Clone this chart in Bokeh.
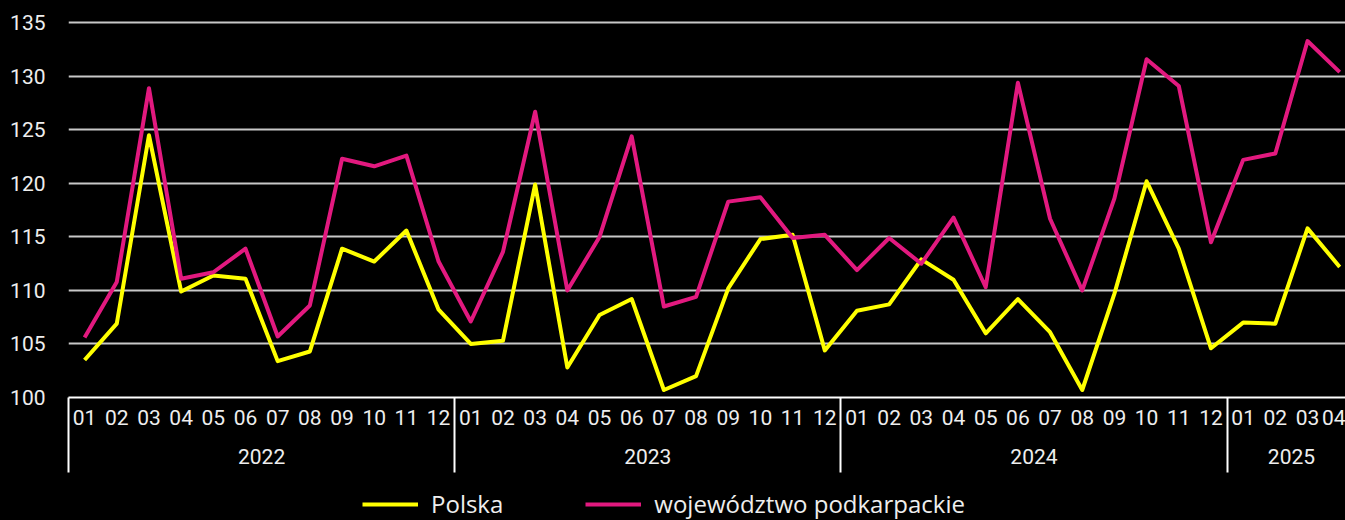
from bokeh.plotting import figure
from bokeh.layouts import column
from bokeh.models import Range1d, FixedTicker, LinearAxis, Legend, LegendItem
from bokeh.embed import file_html
from bokeh.resources import INLINE

# ---- data ----
years = ["2022", "2023", "2024", "2025"]
months_per_year = [12, 12, 12, 4]
month_labels = ["01", "02", "03", "04", "05", "06", "07", "08", "09", "10", "11", "12",
                "01", "02", "03", "04", "05", "06", "07", "08", "09", "10", "11", "12",
                "01", "02", "03", "04", "05", "06", "07", "08", "09", "10", "11", "12",
                "01", "02", "03", "04"]
series_names = ["Polska", "województwo podkarpackie"]
series_colors = ["#FFFF00", "#E2197F"]
polska = [103.5, 106.9, 124.5, 109.9, 111.4, 111.1, 103.4, 104.3, 113.9, 112.7, 115.6, 108.2,
          105.0, 105.3, 119.9, 102.8, 107.7, 109.2, 100.7, 102.0, 110.2, 114.8, 115.2, 104.4,
          108.1, 108.7, 112.9, 111.0, 106.0, 109.2, 106.1, 100.7, 109.7, 120.2, 113.9, 104.6,
          107.0, 106.9, 115.8, 112.2]
podkarpackie = [105.6, 110.8, 128.9, 111.1, 111.7, 113.9, 105.7, 108.6, 122.3, 121.6, 122.6, 112.7,
                107.1, 113.6, 126.7, 110.0, 115.0, 124.4, 108.5, 109.4, 118.3, 118.7, 114.9, 115.2,
                111.9, 114.9, 112.5, 116.8, 110.3, 129.4, 116.7, 110.0, 118.6, 131.6, 129.1, 114.5,
                122.2, 122.8, 133.3, 130.4]
y_ticks = [100, 105, 110, 115, 120, 125, 130, 135]

# ---- derived positions ----
x = list(range(len(month_labels)))
boundaries = []
centers = []
acc = 0
for n in months_per_year:
    boundaries.append(acc - 0.5)
    centers.append(acc + (n - 1) / 2)
    acc += n

BG = "black"
TEXT = "#EEEEEE"
AXFONT = "Roboto"
SEP = 75

p = figure(width=1345, height=480, output_backend="svg", toolbar_location=None,
           x_range=Range1d(-0.5, 39.18), y_range=Range1d(100, 135.5),
           background_fill_color=BG, border_fill_color=BG,
           min_border_left=68, min_border_top=17, min_border_right=0, min_border_bottom=83,
           x_axis_location=None, styles={"background-color": BG})
p.outline_line_color = None
p.xgrid.visible = False
p.ygrid.ticker = FixedTicker(ticks=y_ticks[1:])
p.ygrid.grid_line_color = "#C8C8C8"
p.ygrid.grid_line_width = 2

ya = p.yaxis[0]
ya.ticker = FixedTicker(ticks=y_ticks)
ya.axis_line_color = None
ya.major_tick_line_color = None
ya.minor_tick_line_color = None
ya.major_tick_out = 0
ya.major_tick_in = 0
ya.major_label_standoff = 23
ya.major_label_text_font = AXFONT
ya.major_label_text_font_size = "21px"
ya.major_label_text_color = TEXT

month_axis = LinearAxis(
    ticker=FixedTicker(ticks=x, minor_ticks=boundaries),
    major_label_overrides={i: m for i, m in enumerate(month_labels)},
    axis_line_color="white", axis_line_width=2,
    major_tick_line_color=None, major_tick_out=0, major_tick_in=0,
    minor_tick_line_color="white", minor_tick_line_width=2,
    minor_tick_out=SEP, minor_tick_in=0,
    major_label_standoff=12 - SEP,
    major_label_text_font=AXFONT, major_label_text_font_size="21px",
    major_label_text_color=TEXT)
p.add_layout(month_axis, "below")

year_axis = LinearAxis(
    ticker=FixedTicker(ticks=centers),
    major_label_overrides={c: y for c, y in zip(centers, years)},
    axis_line_color=None,
    major_tick_line_color=None, major_tick_out=0, major_tick_in=0,
    minor_tick_line_color=None,
    major_label_standoff=21,
    major_label_text_font=AXFONT, major_label_text_font_size="21px",
    major_label_text_color=TEXT)
p.add_layout(year_axis, "below")

p.line(x, polska, line_color=series_colors[0], line_width=4, line_join="round")
p.line(x, podkarpackie, line_color=series_colors[1], line_width=4, line_join="round")

# ---- legend strip (its own y range keeps its series lines out of view) ----
pl = figure(width=1345, height=40, output_backend="svg", toolbar_location=None,
            x_range=Range1d(-0.5, 39.18), y_range=Range1d(0, 1),
            background_fill_color=BG, border_fill_color=BG,
            min_border=0, x_axis_location=None, y_axis_location=None,
            styles={"background-color": BG})
pl.outline_line_color = None
pl.grid.visible = False
k1 = pl.line(x, polska, line_color=series_colors[0], line_width=4)
k2 = pl.line(x, podkarpackie, line_color=series_colors[1], line_width=4)

legend = Legend(
    items=[LegendItem(label=series_names[0], renderers=[k1]),
           LegendItem(label=series_names[1], renderers=[k2])],
    orientation="horizontal", location=(294, 0),
    background_fill_color=BG, background_fill_alpha=1.0,
    border_line_color=None,
    label_text_font="Open Sans", label_text_font_size="24px", label_text_color=TEXT,
    glyph_width=56, glyph_height=20, label_standoff=13, spacing=82,
    padding=0, margin=0)
pl.add_layout(legend, "center")

layout = column(p, pl, spacing=0, styles={"background-color": BG})
open("out.html", "w").write(file_html(layout, INLINE))
